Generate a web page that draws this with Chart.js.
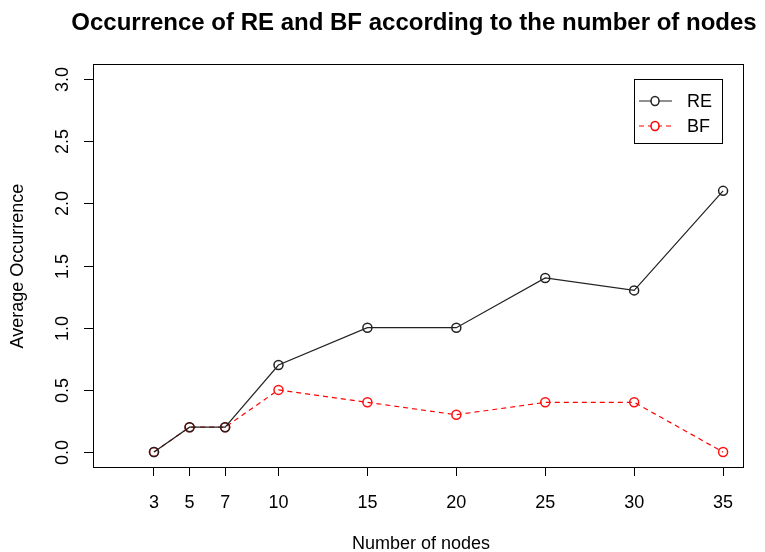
<!DOCTYPE html>
<html>
<head>
<meta charset="utf-8">
<script src="https://cdn.jsdelivr.net/npm/chart.js@4/dist/chart.umd.min.js"></script>
<style>
  html, body { margin: 0; padding: 0; background: #fff; }
  #wrap { width: 765px; height: 552px; }
</style>
</head>
<body>
<div id="wrap"><canvas id="chart" width="765" height="552"></canvas></div>
<script>
// data
const nodes = [3, 5, 7, 10, 15, 20, 25, 30, 35];
const reValues = [0, 0.2, 0.2, 0.7, 1.0, 1.0, 1.4, 1.3, 2.1];
const bfValues = [0, 0.2, 0.2, 0.5, 0.4, 0.3, 0.4, 0.4, 0.0];
const yTicks = [0, 0.5, 1.0, 1.5, 2.0, 2.5, 3.0];

const FONT = "'Liberation Sans', Arial, Helvetica, sans-serif";

// box, y labels, titles and legend like an R base plot
const rPlotDecor = {
    id: 'rPlotDecor',
    afterDraw(chart) {
        const ctx = chart.ctx;
        const a = chart.chartArea;
        const y = chart.scales.y;
        ctx.save();
        ctx.strokeStyle = '#000';
        ctx.lineWidth = 1;
        ctx.strokeRect(a.left + 0.5, a.top + 0.5, a.right - a.left, a.bottom - a.top);

        // y ticks + rotated labels
        ctx.fillStyle = '#000';
        ctx.font = '18px ' + FONT;
        ctx.textAlign = 'center';
        ctx.textBaseline = 'middle';
        yTicks.forEach(v => {
            const py = Math.round(y.getPixelForValue(v)) + 0.5;
            ctx.beginPath();
            ctx.moveTo(a.left - 9, py);
            ctx.lineTo(a.left, py);
            ctx.stroke();
            ctx.save();
            ctx.translate(62, py);
            ctx.rotate(-Math.PI / 2);
            ctx.fillText(v.toFixed(1), 0, 1);
            ctx.restore();
        });

        // title
        ctx.font = 'bold 24px ' + FONT;
        ctx.fillText('Occurrence of RE and BF according to the number of nodes', 414, 23);

        // axis titles
        ctx.font = '18px ' + FONT;
        ctx.fillText('Number of nodes', 421, 544);
        ctx.save();
        ctx.translate(18, 266);
        ctx.rotate(-Math.PI / 2);
        ctx.fillText('Average Occurrence', 0, 0);
        ctx.restore();

        // legend
        const lx = 634, ly = 79, lw = 88, lh = 64;
        ctx.strokeRect(lx + 0.5, ly + 0.5, lw, lh);
        const items = [
            { label: 'RE', color: '#222', dash: [], y: 101 },
            { label: 'BF', color: '#ff0000', dash: [5, 4], y: 126 }
        ];
        ctx.font = '18px ' + FONT;
        ctx.textAlign = 'left';
        items.forEach(it => {
            ctx.strokeStyle = it.color;
            ctx.lineWidth = 1.2;
            ctx.setLineDash(it.dash);
            ctx.beginPath();
            ctx.moveTo(639, it.y);
            ctx.lineTo(672, it.y);
            ctx.stroke();
            ctx.setLineDash([]);
            ctx.fillStyle = '#fff';
            ctx.beginPath();
            ctx.ellipse(655, it.y, 4, 4.5, 0, 0, Math.PI * 2);
            ctx.fill();
            ctx.lineWidth = 1.5;
            ctx.stroke();
            ctx.fillStyle = '#000';
            ctx.fillText(it.label, 687, it.y + 1);
        });
        ctx.restore();
    }
};

new Chart(document.getElementById('chart'), {
    type: 'line',
    data: {
        datasets: [{
            label: 'RE',
            data: nodes.map((n, i) => ({ x: n, y: reValues[i] })),
            borderColor: '#222',
            borderWidth: 1.2,
            pointStyle: 'circle',
            pointRadius: 4.5,
            pointBorderWidth: 1.5,
            pointBorderColor: '#222',
            pointBackgroundColor: 'rgba(0,0,0,0)',
            tension: 0
        }, {
            label: 'BF',
            data: nodes.map((n, i) => ({ x: n, y: bfValues[i] })),
            borderColor: '#ff0000',
            borderWidth: 1.2,
            borderDash: [5, 4],
            pointStyle: 'circle',
            pointRadius: 4.5,
            pointBorderWidth: 1.5,
            pointBorderColor: '#ff1010',
            pointBackgroundColor: 'rgba(0,0,0,0)',
            tension: 0
        }]
    },
    options: {
        responsive: false,
        animation: false,
        layout: { padding: { left: 0, right: 22, top: 64, bottom: 0 } },
        plugins: {
            legend: { display: false },
            title: { display: false },
            tooltip: { enabled: false }
        },
        scales: {
            x: {
                type: 'linear',
                min: -0.43,
                max: 36.12,
                afterBuildTicks: s => { s.ticks = nodes.map(v => ({ value: v })); },
                afterFit: s => { s.height = 85; },
                grid: { drawOnChartArea: false, drawTicks: true, tickLength: 9, color: '#000', lineWidth: 1 },
                border: { display: false },
                ticks: {
                    color: '#000',
                    font: { family: FONT, size: 18 },
                    padding: 16,
                    maxRotation: 0,
                    autoSkip: false,
                    callback: v => String(v)
                }
            },
            y: {
                type: 'linear',
                min: -0.12,
                max: 3.12,
                afterBuildTicks: s => { s.ticks = yTicks.map(v => ({ value: v })); },
                afterFit: s => { s.width = 93; },
                grid: { display: false },
                border: { display: false },
                ticks: { display: false }
            }
        }
    },
    plugins: [rPlotDecor]
});
</script>
</body>
</html>
